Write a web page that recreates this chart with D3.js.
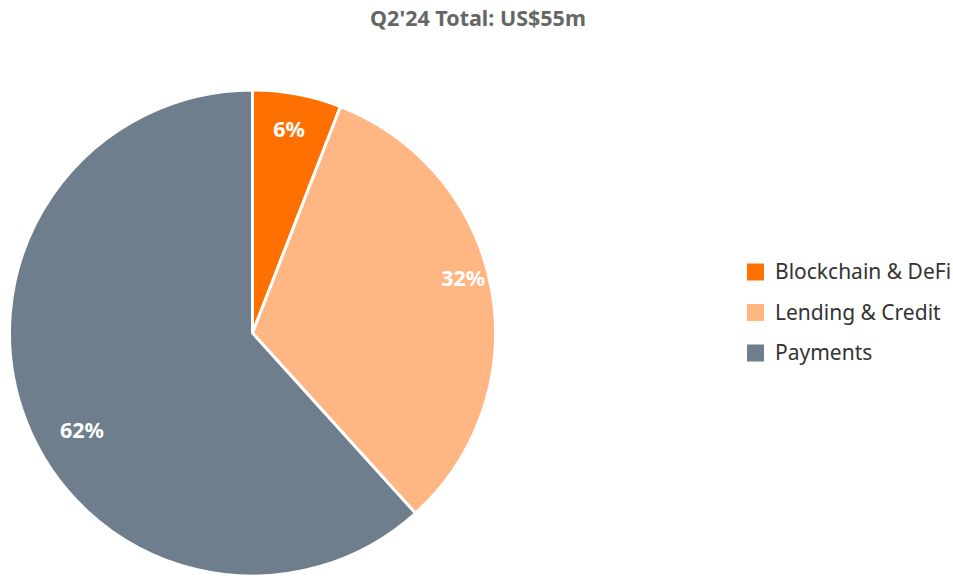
<!DOCTYPE html>
<html><head><meta charset="utf-8">
<script src="https://cdn.jsdelivr.net/npm/d3@7"></script>
<style>body{margin:0;background:#fff;} svg{display:block;}</style>
</head><body>
<svg id="c" width="953" height="577"></svg>
<script>
const title = "Q2'24 Total: US$55m";
const categories = ["Blockchain & DeFi", "Lending & Credit", "Payments"];
const shares = [5.9, 32.4, 61.7];
const colors = ["#FF7000", "#FFB682", "#6E7E8C"];

const svg = d3.select("#c");
const font = "'Noto Sans','Open Sans',sans-serif";
const cx = 252.5, cy = 333, r = 243;
// label nudges (layout only)
const labelNudge = [[-1, -3], [10, -18], [20, 24]];

svg.append("text").attr("x", 478).attr("y", 26).attr("text-anchor", "middle")
  .attr("font-family", font).attr("font-weight", "bold").attr("font-size", 21.5)
  .attr("fill", "#666").text(title);

const data = categories.map((c, i) => ({cat: c, v: shares[i], color: colors[i]}));
const pie = d3.pie().sort(null).value(d => d.v);
const arc = d3.arc().innerRadius(0).outerRadius(r);
const labelArc = d3.arc().innerRadius(r * 0.84).outerRadius(r * 0.84);
const arcs = pie(data);
const g = svg.append("g").attr("transform", `translate(${cx},${cy})`);
g.selectAll("path").data(arcs).join("path")
  .attr("d", arc).attr("fill", d => d.data.color)
  .attr("stroke", "#fff").attr("stroke-width", 3).attr("stroke-linejoin", "round");
g.selectAll("text").data(arcs).join("text")
  .attr("transform", (d, i) => {
    const c = labelArc.centroid(d);
    return `translate(${c[0] + labelNudge[i][0]},${c[1] + labelNudge[i][1]})`;
  })
  .attr("text-anchor", "middle").attr("dy", "0.35em")
  .attr("font-family", font).attr("font-weight", "bold").attr("font-size", 21.5)
  .attr("fill", "#fff").text(d => Math.round(d.data.v) + "%");

const lg = svg.append("g").attr("transform", "translate(747,272)");
const item = lg.selectAll("g").data(data).join("g")
  .attr("transform", (d, i) => `translate(0,${i * 40.5})`);
item.append("rect").attr("x", 0).attr("y", -8.5).attr("width", 17).attr("height", 17).attr("fill", d => d.color);
item.append("text").attr("x", 28).attr("y", 0).attr("dy", "0.35em")
  .attr("font-family", font).attr("font-size", 21).attr("fill", "#333").text(d => d.cat);
</script>
</body></html>
